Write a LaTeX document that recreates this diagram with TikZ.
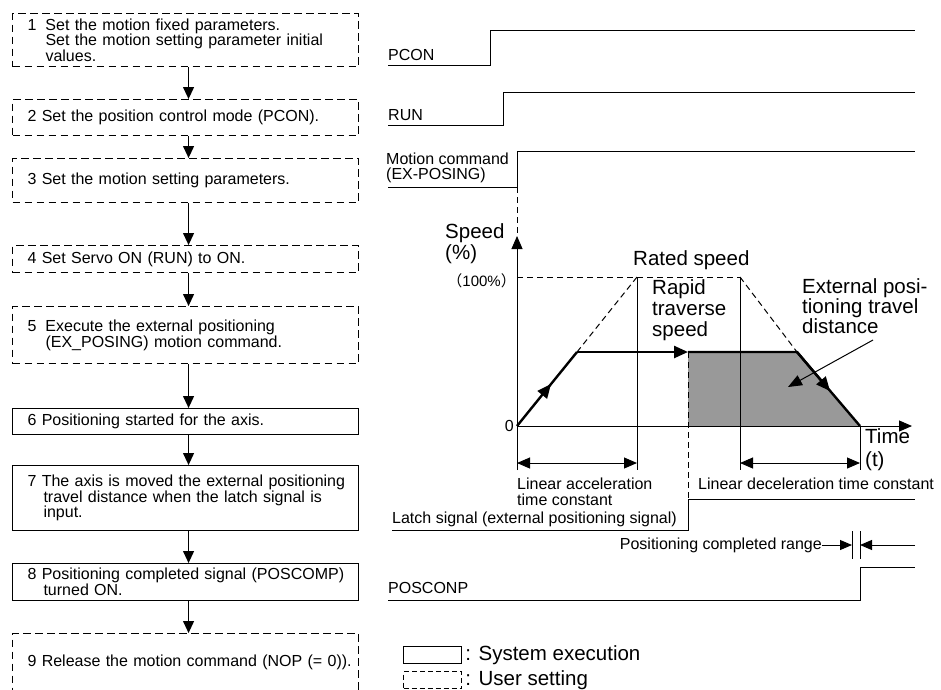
\documentclass[tikz,border=0pt]{standalone}
\usepackage{fontspec}
\setmainfont{Liberation Sans}
\newfontfamily\cjkfont{Noto Sans CJK SC}
\usetikzlibrary{arrows.meta}
\newcommand\flind[1]{\hspace*{#1pt}}
\tikzset{
  sm/.style={font=\fontsize{16}{15.7}\selectfont},
  lg/.style={font=\fontsize{20.5}{21}\selectfont},
  flowbox/.style={sm, anchor=north west, text width=346pt,
                  inner xsep=0pt, align=left, line width=1.1pt},
  userbox/.style={flowbox, draw, dash pattern=on 7.5pt off 4.5pt},
  sysbox/.style={flowbox, draw},
  flow/.style={-{Triangle[length=12pt,width=11pt]}, line width=1.1pt},
  sig/.style={line width=1pt},
  thin/.style={line width=1pt},
  dsh/.style={line width=1pt, dash pattern=on 6pt off 4pt},
  curve/.style={line width=2.4pt},
  head/.style={-{Triangle[length=13pt,width=11pt]}},
  dhead/.style={{Triangle[length=13pt,width=11pt]}-{Triangle[length=13pt,width=11pt]}},
  lbl/.style={inner sep=0pt}
}
\begin{document}
\begin{tikzpicture}[x=1pt,y=-1pt]
\useasboundingbox (0,0) rectangle (941,689);

% ---------- flowchart ----------
\node[userbox, minimum height=53pt] (b1) at (12,13)
  {\flind{15}1\hspace{9pt}Set the motion fixed parameters.\\\flind{33}Set the motion setting parameter initial\\\flind{33}values.};
\node[userbox, minimum height=36pt] (b2) at (12,99) {\flind{15}2 Set the position control mode (PCON).};
\node[userbox, minimum height=44pt] (b3) at (12,158) {\flind{15}3 Set the motion setting parameters.};
\node[userbox, minimum height=27pt] (b4) at (12,245) {\flind{15}4 Set Servo ON (RUN) to ON.};
\node[userbox, minimum height=57pt] (b5) at (12,306)
  {\flind{15}5\hspace{9pt}Execute the external positioning\\\flind{33}(EX\_POSING) motion command.};
\node[sysbox, minimum height=26pt] (b6) at (12,408) {\flind{15}6 Positioning started for the axis.};
\node[sysbox, minimum height=65pt] (b7) at (12,465)
  {\flind{15}7 The axis is moved the external positioning\\\flind{31}travel distance when the latch signal is\\\flind{31}input.};
\node[sysbox, minimum height=37pt] (b8) at (12,563)
  {\flind{15}8 Positioning completed signal (POSCOMP)\\\flind{31}turned ON.};
\node[userbox, minimum height=58pt] (b9) at (12,633) {\flind{15}9 Release the motion command (NOP (= 0)).};

\foreach \a/\b in {b1/b2,b2/b3,b3/b4,b4/b5,b5/b6,b6/b7,b7/b8,b8/b9}
  \draw[flow] ([xshift=3pt]\a.south) -- ([xshift=3pt]\b.north);

% ---------- timing signals ----------
\node[sm, anchor=west, lbl] (pcon) at (388,55) {PCON};
\draw[sig] (388,65) -- (490,65) -- (490,30) -- (915,30);
\node[sm, anchor=west, lbl] (run) at (388,115) {RUN};
\draw[sig] (388,125) -- (503,125) -- (503,92) -- (915,92);
\node[sm, anchor=west, lbl, align=left] (mc) at (386,168) {Motion command\\(EX-POSING)};
\draw[sig] (388,187) -- (517,187) -- (517,151) -- (915,151);
\draw[dsh] (517,187) -- (517,236);

% ---------- speed graph ----------
\fill[black!40] (688,352) -- (797,352) -- (860,426) -- (688,426) -- cycle;
\draw[thin, head] (517,470) -- (517,236);
\draw[thin, head] (517,426) -- (912,426);
\draw[dsh] (517,277) -- (740,277);
\draw[dsh] (577,352) -- (637,277);
\draw[dsh] (740,277) -- (797,352);
\draw[thin] (637,277) -- (637,470);
\draw[thin] (740,277) -- (740,470);
\draw[thin] (860,426) -- (860,470);
\draw[dsh] (688,352) -- (688,499);
% trajectory
\draw[curve, -{Triangle[length=14pt,width=12pt]}] (517,426) -- (551,384);
\draw[curve] (549,386.5) -- (577,352);
\draw[curve, -{Triangle[length=14pt,width=12pt]}] (577,352) -- (688,352);
\draw[curve] (688,352) -- (797,352) -- (860,426);
\draw[curve, -{Triangle[length=14pt,width=12pt]}] (797,352) -- (830,391);
\draw[thin, -{Triangle[length=14pt,width=11pt]}] (873,340) -- (788,387);
% time constant brackets
\draw[thin, dhead] (517,463) -- (637,463);
\draw[thin, dhead] (740,463) -- (860,463);

% graph labels
\node[lg, anchor=west, lbl, align=left] (speed) at (445,244) {Speed\\(\%)};
\node[font=\fontsize{15}{15}\selectfont, anchor=east, lbl] (pct) at (516,281) {{\cjkfont （}100\%{\cjkfont ）}};
\node[sm, anchor=east, lbl] (zero) at (514,426) {0};
\node[lg, anchor=west, lbl] (rated) at (633,260) {Rated speed};
\node[lg, anchor=west, lbl, align=left] (rapid) at (652,310) {Rapid\\traverse\\speed};
\node[lg, anchor=west, lbl, align=left, font=\fontsize{20.5}{20}\selectfont] (ext) at (802,306) {External posi-\\tioning travel\\distance};
\node[lg, anchor=west, lbl, align=left, font=\fontsize{20.5}{23}\selectfont] (time) at (865,450) {Time\\(t)};
\node[sm, anchor=west, lbl, align=left] (acc) at (517,492) {Linear acceleration\\time constant};
\node[sm, anchor=west, lbl] (dec) at (698,484) {Linear deceleration time constant};

% latch
\node[sm, anchor=west, lbl] (latch) at (392,519) {Latch signal (external positioning signal)};
\draw[sig] (392,530) -- (688,530) -- (688,499) -- (915,499);

% positioning completed range
\node[sm, anchor=east, lbl] (pcr) at (822,545) {Positioning completed range};
\draw[thin] (852,531) -- (852,559);
\draw[thin] (860,531) -- (860,559);
\draw[thin, -{Triangle[length=12pt,width=10pt]}] (pcr.east) -- (852,545);
\draw[thin, -{Triangle[length=12pt,width=10pt]}] (915,545) -- (860,545);

% POSCONP
\node[sm, anchor=west, lbl] (pos) at (388,588) {POSCONP};
\draw[sig] (388,600) -- (860,600) -- (860,567) -- (915,567);

% legend
\node[draw, line width=1.1pt, anchor=north west, minimum width=58pt, minimum height=17pt, inner sep=0pt] (legsys) at (403,646) {};
\node[lg, anchor=west, inner sep=3pt] (legsyst) at (legsys.east) {: System execution};
\node[draw, line width=1.1pt, dash pattern=on 5pt off 3pt, anchor=north west, minimum width=58pt, minimum height=17pt, inner sep=0pt] (legusr) at (403,671) {};
\node[lg, anchor=west, inner sep=3pt] (legusrt) at (legusr.east) {: User setting};
\end{tikzpicture}
\end{document}
